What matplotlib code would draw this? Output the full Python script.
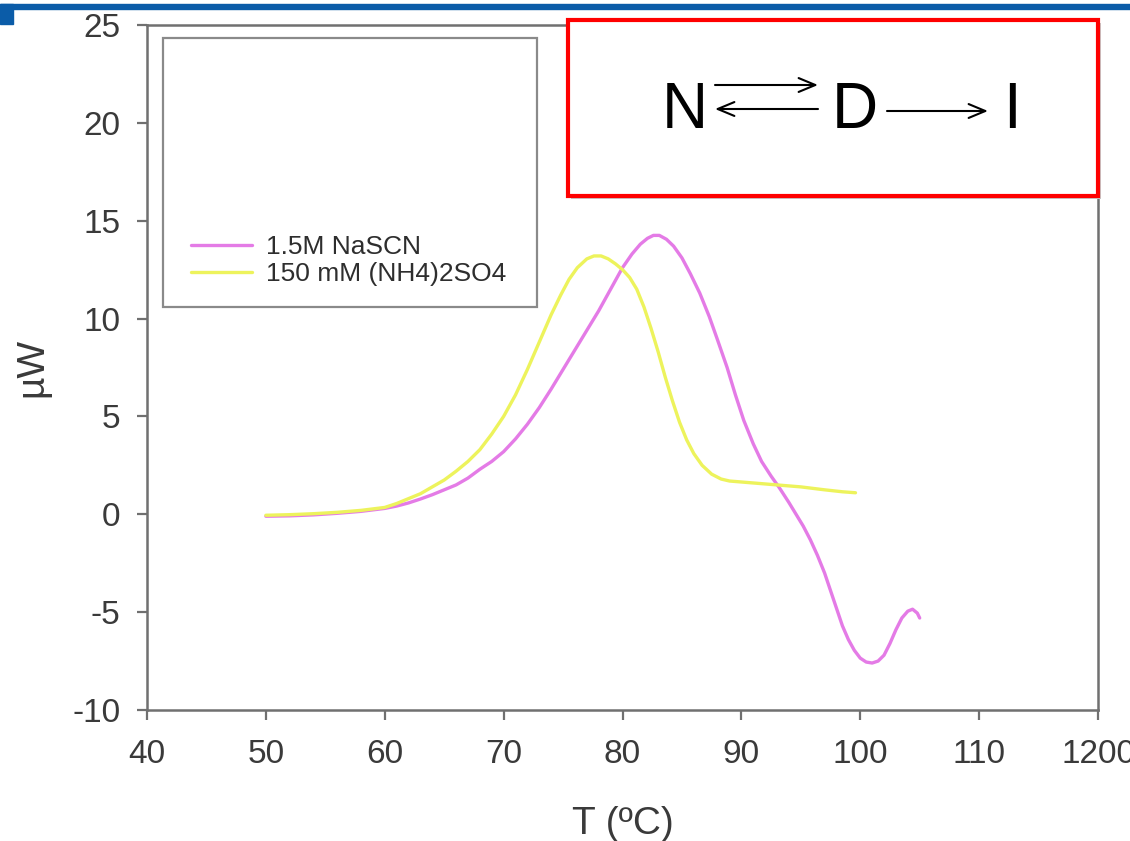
import matplotlib
matplotlib.use('Agg')
import matplotlib.pyplot as plt
from matplotlib.patches import Rectangle, FancyArrowPatch

plt.rcParams['font.family'] = ['Liberation Sans', 'DejaVu Sans']
plt.rcParams['axes.unicode_minus'] = False

# DSC traces, T in degC vs heat flow in uW
t_nascn = [50, 52, 54, 56, 58, 60, 61, 62, 63, 64, 65, 66, 67, 68, 69, 70, 71, 72,
           73, 74, 75, 76, 77, 78, 79, 80, 80.8, 81.5, 82.1, 82.6, 83.1, 83.7, 84.3,
           85, 85.7, 86.5, 87.3, 88, 88.8, 89.5, 90.2, 91, 91.7, 92.5, 93.2, 94,
           94.6, 95.2, 95.8, 96.4, 97, 97.5, 98, 98.5, 99, 99.5, 100, 100.5, 101,
           101.5, 102, 102.5, 103, 103.5, 104, 104.4, 104.8, 105]
p_nascn = [-0.1, -0.08, -0.03, 0.05, 0.15, 0.3, 0.42, 0.58, 0.78, 1.0, 1.25, 1.5,
           1.85, 2.3, 2.7, 3.2, 3.85, 4.6, 5.45, 6.4, 7.4, 8.4, 9.4, 10.4, 11.5,
           12.6, 13.3, 13.8, 14.1, 14.25, 14.25, 14.05, 13.7, 13.1, 12.3, 11.3,
           10.1, 8.9, 7.5, 6.1, 4.8, 3.6, 2.7, 1.95, 1.35, 0.6, 0.0, -0.6, -1.3,
           -2.1, -3.0, -3.9, -4.8, -5.7, -6.4, -6.95, -7.35, -7.55, -7.6, -7.5,
           -7.2, -6.6, -5.9, -5.3, -4.95, -4.85, -5.05, -5.3]

t_amsulf = [50, 52, 54, 56, 58, 60, 61, 62, 63, 64, 65, 66, 67, 68, 69, 70, 71, 72,
            73, 74, 74.8, 75.5, 76.2, 77, 77.6, 78.2, 78.8, 79.4, 80, 80.6, 81.2,
            81.8, 82.4, 83, 83.6, 84.2, 84.8, 85.4, 86, 86.7, 87.5, 88.3, 89, 91,
            93, 95, 97, 98.5, 99.6]
p_amsulf = [-0.05, -0.02, 0.03, 0.1, 0.2, 0.35, 0.55, 0.8, 1.05, 1.4, 1.75, 2.2,
            2.7, 3.3, 4.1, 5.0, 6.1, 7.4, 8.8, 10.2, 11.2, 12.0, 12.6, 13.05, 13.2,
            13.2, 13.05, 12.8, 12.5, 12.1, 11.5, 10.6, 9.5, 8.3, 7.0, 5.8, 4.7, 3.8,
            3.1, 2.5, 2.05, 1.8, 1.7, 1.6, 1.5, 1.4, 1.25, 1.15, 1.1]

labels = ['1.5M NaSCN', '150 mM (NH4)2SO4']
x_ticks = [40, 50, 60, 70, 80, 90, 100, 110, 120]
x_ticklabels = ['40', '50', '60', '70', '80', '90', '100', '110', '1200']
y_ticks = [-10, -5, 0, 5, 10, 15, 20, 25]

W, H = 1130, 841
fig = plt.figure(figsize=(W / 100, H / 100), dpi=100)
fig.patch.set_facecolor('white')

# slide header bar
fig.patches.append(Rectangle((0, 1 - 9 / H), 1, 5 / H, transform=fig.transFigure,
                             color='#0b5ca8', zorder=5))
fig.patches.append(Rectangle((0, 1 - 24 / H), 13 / W, 20 / H, transform=fig.transFigure,
                             color='#0b5ca8', zorder=5))

ax = fig.add_axes([147 / W, 1 - 710 / H, (1098 - 147) / W, (710 - 25) / H])
ax.plot(t_nascn, p_nascn, color='#e47be6', lw=2.4, label=labels[0],
        solid_joinstyle='round', solid_capstyle='round')
ax.plot(t_amsulf, p_amsulf, color='#edf35c', lw=2.4, label=labels[1],
        solid_joinstyle='round', solid_capstyle='round')

ax.set_xlim(40, 120)
ax.set_ylim(-10, 25)
ax.set_xticks(x_ticks)
ax.set_xticklabels(x_ticklabels)
ax.set_yticks(y_ticks)
for s in ax.spines.values():
    s.set_color('#707070')
    s.set_linewidth(1.8)
ax.tick_params(direction='out', length=7, width=1.6, color='#707070',
               labelsize=24, labelcolor='#3a3a3a')
ax.tick_params(axis='y', pad=12)
ax.tick_params(axis='x', pad=14)
ax.set_xlabel('T (ºC)', fontsize=28, color='#3a3a3a', labelpad=26)
ax.set_ylabel('µW', fontsize=28, color='#3a3a3a', labelpad=16)

# legend frame is a large box, entries near its bottom
ax.add_patch(Rectangle(((163 - 147) / (1098 - 147), 1 - (307 - 25) / 685),
                       (537 - 163) / (1098 - 147), (307 - 38) / 685,
                       transform=ax.transAxes, fill=False, ec='#8a8a8a', lw=1.6,
                       zorder=3))
leg = ax.legend(loc='upper left', bbox_to_anchor=(178 / W, 1 - 222 / H),
                bbox_transform=fig.transFigure, frameon=False, fontsize=19,
                handlelength=2.3, handletextpad=0.55, labelspacing=0.1,
                borderpad=0)
for t in leg.get_texts():
    t.set_color('#2e2e2e')

# reaction scheme box
fig.patches.append(Rectangle((571 / W, 1 - 199 / H), (1101 - 571) / W, (199 - 23) / H,
                             transform=fig.transFigure, fc='#c8c8c8', ec='none',
                             zorder=6))
fig.patches.append(Rectangle((568 / W, 1 - 196 / H), (1098 - 568) / W, (196 - 20) / H,
                             transform=fig.transFigure, fc='white', ec='#ff0000',
                             lw=3, zorder=7))
for s, x in [('N', 685), ('D', 855), ('I', 1012)]:
    fig.text(x / W, 1 - 111 / H, s, fontsize=46, ha='center', va='center',
             color='black', zorder=8)
for x0, x1, y in [(715, 818, 85), (818, 715, 109), (887, 988, 111)]:
    fig.patches.append(FancyArrowPatch((x0 / W, 1 - y / H), (x1 / W, 1 - y / H),
                                       transform=fig.transFigure, arrowstyle='->,head_length=12,head_width=5',
                                       lw=1.5, color='black', zorder=8,
                                       shrinkA=0, shrinkB=0))

fig.savefig('out.png', dpi=100)
